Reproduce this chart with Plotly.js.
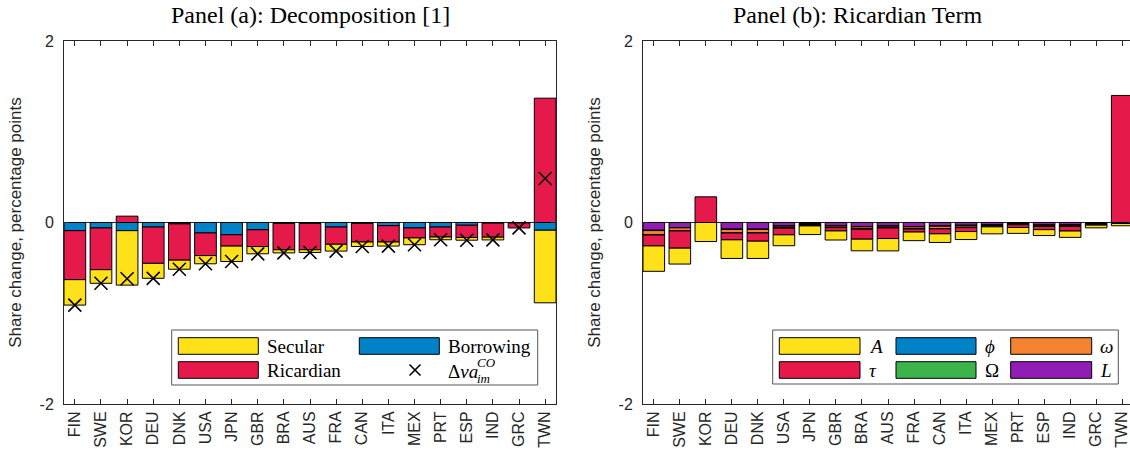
<!DOCTYPE html>
<html>
<head>
<meta charset="utf-8">
<script src="https://cdn.plot.ly/plotly-3.0.1.min.js"></script>
<style>
html,body{margin:0;padding:0;overflow:hidden;background:#fff;}
#chart{width:1140px;height:458px;}
</style>
</head>
<body>
<div id="chart"></div>
<script>
// ---------------- data ----------------
const countries = ['FIN','SWE','KOR','DEU','DNK','USA','JPN','GBR','BRA','AUS','FRA','CAN','ITA','MEX','PRT','ESP','IND','GRC','TWN'];

// Panel (a): decomposition
const secular   = [-0.28,-0.15,-0.60,-0.165,-0.10,-0.09,-0.17,-0.08,-0.035,-0.03,-0.075,-0.05,-0.045,-0.075,-0.03,-0.03,-0.03,0.0,-0.80];
const ricardian = [-0.54,-0.46,0.07,-0.40,-0.40,-0.25,-0.125,-0.185,-0.29,-0.29,-0.19,-0.205,-0.18,-0.11,-0.11,-0.135,-0.155,-0.055,1.37];
const borrowing = [-0.09,-0.06,-0.09,-0.05,-0.015,-0.115,-0.135,-0.08,-0.01,-0.01,-0.05,-0.01,-0.035,-0.06,-0.05,-0.03,-0.007,-0.005,-0.085];
const dva       = [-0.91,-0.67,-0.62,-0.615,-0.515,-0.455,-0.43,-0.345,-0.335,-0.33,-0.315,-0.265,-0.26,-0.245,-0.19,-0.195,-0.192,-0.06,0.485];

// Panel (b): Ricardian term
const termA     = [-0.28,-0.175,-0.21,-0.205,-0.19,-0.12,-0.095,-0.10,-0.128,-0.136,-0.095,-0.095,-0.088,-0.077,-0.065,-0.065,-0.07,-0.03,-0.025];
const termTau   = [-0.12,-0.19,0.283,-0.075,-0.09,-0.073,-0.01,-0.037,-0.11,-0.117,-0.033,-0.055,-0.044,-0.01,-0.03,-0.035,-0.05,-0.01,1.40];
const termPhi   = [-0.004,-0.004,0,-0.004,-0.004,-0.004,-0.004,-0.004,-0.004,-0.004,-0.004,-0.004,-0.004,-0.004,-0.004,-0.004,-0.004,-0.003,-0.003];
const termOmegaCap = [-0.004,-0.004,0,-0.004,-0.004,-0.004,-0.004,-0.004,-0.004,-0.004,-0.004,-0.004,-0.004,-0.004,-0.004,-0.004,-0.004,-0.003,-0.003];
const termOmega = [-0.045,-0.03,0,-0.035,-0.035,-0.018,-0.005,-0.015,-0.022,-0.015,-0.02,-0.025,-0.018,-0.005,-0.005,-0.01,-0.01,-0.003,0];
const termL     = [-0.085,-0.055,0,-0.073,-0.073,-0.037,-0.015,-0.033,-0.044,-0.037,-0.044,-0.037,-0.03,-0.025,-0.012,-0.026,-0.026,-0.01,-0.005];

const yTickVals = [-2, 0, 2];
const yTickText = ['-2', '0', '2'];

// ---------------- style ----------------
const C = {yellow:'#ffe119', red:'#e6194b', blue:'#0082c8', green:'#3cb44b', orange:'#f58231', purple:'#911eb4'};
const W = 1140, H = 458;
const px = v => v / W;
const py = v => 1 - v / H;
const axisColor = '#262626';
const serif = 'Liberation Serif, Times New Roman, serif';
const sans = 'Liberation Sans, Arial, sans-serif';

function bar(y, color, xa, ya) {
  return {type:'bar', x: countries, y: y, xaxis: xa, yaxis: ya, showlegend:false,
          marker:{color: color, line:{color:'#000', width:1}}, hoverinfo:'x+y'};
}

const traces = [
  bar(borrowing, C.blue, 'x', 'y'),
  bar(ricardian, C.red, 'x', 'y'),
  bar(secular, C.yellow, 'x', 'y'),
  {type:'scatter', mode:'markers', x: countries, y: dva, xaxis:'x', yaxis:'y', showlegend:false,
   marker:{symbol:'x-thin', size:13, color:'#000', line:{color:'#000', width:1.6}}},
  bar(termL, C.purple, 'x2', 'y2'),
  bar(termOmegaCap, C.green, 'x2', 'y2'),
  bar(termOmega, C.orange, 'x2', 'y2'),
  bar(termPhi, C.blue, 'x2', 'y2'),
  bar(termTau, C.red, 'x2', 'y2'),
  bar(termA, C.yellow, 'x2', 'y2')
];

function xAxis(domain, anchor) {
  return {domain: domain, anchor: anchor, type:'category', range:[-0.415, 18.415],
    showline:true, linecolor:axisColor, linewidth:1, mirror:'ticks',
    ticks:'inside', ticklen:5, tickcolor:axisColor, tickangle:-90,
    tickfont:{family:sans, size:16, color:axisColor}, showgrid:false, zeroline:false, automargin:false};
}
function yAxis(domain, anchor) {
  return {domain: domain, anchor: anchor, range:[-2, 2],
    tickvals: yTickVals, ticktext: yTickText,
    showline:true, linecolor:axisColor, linewidth:1, mirror:'ticks',
    ticks:'inside', ticklen:5, tickcolor:axisColor, ticklabelstandoff:6,
    tickfont:{family:sans, size:16, color:axisColor}, showgrid:false,
    zeroline:true, zerolinecolor:axisColor, zerolinewidth:1, automargin:false,
    title:{text:'Share change, percentage points', font:{family:sans, size:17, color:axisColor}, standoff:13}};
}

const yDom = [54/H, 417/H];
const shapes = [];
const annotations = [];

function rect(x0, x1, y0, y1, fill, lw, lc) {
  shapes.push({type:'rect', xref:'paper', yref:'paper', x0:px(x0), x1:px(x1), y0:py(y1), y1:py(y0),
    fillcolor: fill, line:{color: lc || '#000', width: lw}});
}
function label(x, y, text, size) {
  annotations.push({xref:'paper', yref:'paper', x:px(x), y:py(y), xanchor:'left', yanchor:'middle',
    text:text, showarrow:false, font:{family:serif, size:size || 19, color:'#000'}});
}

// titles
annotations.push({xref:'paper', yref:'paper', x:px(310), y:py(15), xanchor:'center', yanchor:'middle',
  text:'Panel (a): Decomposition [1]', showarrow:false, font:{family:serif, size:24, color:'#000'}});
annotations.push({xref:'paper', yref:'paper', x:px(857), y:py(15), xanchor:'center', yanchor:'middle',
  text:'Panel (b): Ricardian Term', showarrow:false, font:{family:serif, size:24, color:'#000'}});

// legend (a)
rect(171.7, 537.7, 330, 385, '#fff', 1, '#555');
rect(178.3, 258.3, 337.7, 354.3, C.yellow, 1);
rect(178.3, 258.3, 361.7, 378.3, C.red, 1);
rect(359.3, 439.3, 337.7, 354.3, C.blue, 1);
label(264.5, 346, 'Secular');
label(264.5, 370, 'Ricardian');
label(446, 346, 'Borrowing');
shapes.push({type:'line', xref:'paper', yref:'paper', x0:px(409.5), y0:py(364.5), x1:px(420.5), y1:py(375.5), line:{color:'#000', width:1.6}});
shapes.push({type:'line', xref:'paper', yref:'paper', x0:px(409.5), y0:py(375.5), x1:px(420.5), y1:py(364.5), line:{color:'#000', width:1.6}});
label(446, 371, 'Δ<i>va</i>');
label(475, 362, '<i>CO</i>', 13);
label(475, 378, '<i>im</i>', 13);

// legend (b)
rect(772.7, 1118.3, 330, 384, '#fff', 1, '#555');
const legB = [
  [779.3, 860, 337.7, 354.3, C.yellow, 866.7, 346, '<i>A</i>'],
  [779.3, 860, 361.7, 378.3, C.red, 866.7, 370, '<i>τ</i>'],
  [896, 976, 337.7, 354.3, C.blue, 983, 346, '<i>ϕ</i>'],
  [896, 976, 361.7, 378.3, C.green, 983, 370, 'Ω'],
  [1010.7, 1091.7, 337.7, 354.3, C.orange, 1098, 346, '<i>ω</i>'],
  [1010.7, 1091.7, 361.7, 378.3, C.purple, 1098, 370, '<i>L</i>']
];
legB.forEach(e => { rect(e[0], e[1], e[2], e[3], e[4], 1); label(e[5], e[6], e[7]); });

const layout = {
  width: W, height: H,
  margin:{l:0, r:0, t:0, b:0},
  paper_bgcolor:'#fff', plot_bgcolor:'#fff',
  barmode:'relative', bargap:0.17,
  showlegend:false,
  xaxis: xAxis([64/W, 556/W], 'y'),
  yaxis: yAxis(yDom, 'x'),
  xaxis2: xAxis([643/W, 1133/W], 'y2'),
  yaxis2: yAxis(yDom, 'x2'),
  shapes: shapes,
  annotations: annotations
};

Plotly.newPlot('chart', traces, layout, {staticPlot:true, displayModeBar:false});
</script>
</body>
</html>
